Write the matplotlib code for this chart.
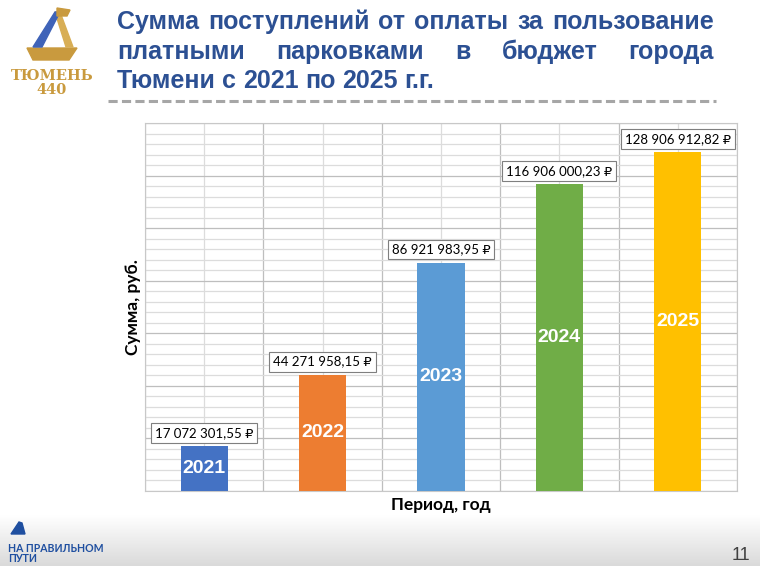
import matplotlib.pyplot as plt
import numpy as np
from matplotlib.patches import Polygon
from matplotlib.colors import LinearSegmentedColormap

# data
years = ['2021', '2022', '2023', '2024', '2025']
amounts = [17072301.55, 44271958.15, 86921983.95, 116906000.23, 128906912.82]
amount_labels = ['17 072 301,55 ₽', '44 271 958,15 ₽', '86 921 983,95 ₽',
                 '116 906 000,23 ₽', '128 906 912,82 ₽']
bar_colors = ['#4472C4', '#ED7D31', '#5B9BD5', '#70AD47', '#FFC000']

title_lines = ['Сумма поступлений от оплаты за пользование',
               'платными парковками в бюджет города',
               'Тюмени с 2021 по 2025 г.г.']

W, H = 760, 566
TITLE_BLUE = '#2C5093'
GOLD = '#C99A3E'


def fx(px):
    return px / W


def fy(py):
    return 1 - py / H


fig = plt.figure(figsize=(W / 100, H / 100), dpi=100)
fig.patch.set_facecolor('white')

# decoration layer in pixel coordinates
deco = fig.add_axes([0, 0, 1, 1])
deco.set_xlim(0, W)
deco.set_ylim(H, 0)
deco.axis('off')

# footer gradient
cmap = LinearSegmentedColormap.from_list('foot', ['#FFFFFF', '#DADADA'])
grad = np.linspace(0, 1, 100).reshape(-1, 1)
deco.imshow(grad, cmap=cmap, extent=(0, W, H, 515), aspect='auto', zorder=0)

# logo
deco.add_patch(Polygon([(27, 48), (77, 48), (69, 60), (33, 60)], color=GOLD))
deco.add_patch(Polygon([(55, 12), (60, 12), (73, 47), (66, 47)], color='#D8AE55'))
deco.add_patch(Polygon([(33, 47), (55, 12), (60, 12), (42, 47)], color='#3F63B8'))
deco.add_patch(Polygon([(57, 8), (70, 10), (67, 16), (57, 16)], color=GOLD))
deco.text(52, 76, 'ТЮМЕНЬ', color=GOLD, fontsize=10.5, fontweight='bold',
          family='DejaVu Serif', ha='center', va='center')
deco.text(52, 90, '440', color=GOLD, fontsize=10.5, fontweight='bold',
          family='DejaVu Serif', ha='center', va='center')

# footer logo and page number
deco.add_patch(Polygon([(11, 534), (19, 522), (22, 523), (25, 534)], color='#1F4FA0'))
deco.text(8, 548, 'НА ПРАВИЛЬНОМ', color='#1F4FA0', fontsize=7.6,
          fontweight='bold', family='Lato', va='center')
deco.text(8, 558, 'ПУТИ', color='#1F4FA0', fontsize=7.6,
          fontweight='bold', family='Lato', va='center')
deco.text(741, 555, '11', color='#404040', fontsize=13,
          family='Liberation Sans', ha='center', va='center')

# dashed separator
deco.plot([108, 716], [101, 101], color='#A6A6A6', lw=2.2,
          ls=(0, (3, 1.4)), solid_capstyle='butt')

# title, justified except the last line
title_y = [22, 52, 81]
left_x, right_x = 117, 714
renderer = fig.canvas.get_renderer()
for i, line in enumerate(title_lines):
    words = line.split()
    texts = [deco.text(0, title_y[i], w, color=TITLE_BLUE, fontsize=18,
                       fontweight='bold', family='Liberation Sans',
                       va='center', ha='left') for w in words]
    widths = [t.get_window_extent(renderer).width for t in texts]
    space = texts[0].get_window_extent(renderer).height * 0.27
    if i < len(title_lines) - 1:
        gap = (right_x - left_x - sum(widths)) / (len(words) - 1)
    else:
        gap = space
    x = left_x
    for t, w in zip(texts, widths):
        t.set_x(x)
        x += w + gap

# chart
ax = fig.add_axes([fx(145), fy(491), fx(737) - fx(145), fy(123) - fy(491)])
x = np.arange(len(years))
ax.bar(x, amounts, width=0.4, color=bar_colors, zorder=3)
ax.set_xlim(-0.5, len(years) - 0.5)
ax.set_ylim(0, 140e6)
ax.set_xticks(np.arange(-0.5, len(years), 1))
ax.set_xticks(x, minor=True)
ax.set_yticks(np.arange(0, 140e6 + 1, 20e6))
ax.set_yticks(np.arange(0, 140e6 + 1, 4e6), minor=True)
ax.grid(which='minor', color='#DCDCDC', lw=0.9, zorder=0)
ax.grid(which='major', color='#BEBEBE', lw=0.9, zorder=1)
ax.tick_params(which='both', length=0, labelbottom=False, labelleft=False)
for s in ax.spines.values():
    s.set_color('#C8C8C8')

for xi, val, lab, yr in zip(x, amounts, amount_labels, years):
    ax.annotate(lab, (xi, val), xytext=(0, 7), textcoords='offset pixels',
                ha='center', va='bottom', fontsize=9.5, color='black',
                family=['Lato', 'DejaVu Sans'], zorder=5,
                bbox=dict(boxstyle='square,pad=0.3', fc='white',
                          ec='#7F7F7F', lw=0.8))
    ax.text(xi, val / 2, yr, ha='center', va='center', color='white',
            fontsize=14, fontweight='bold', family='Liberation Sans', zorder=4)

ax.set_ylabel('Сумма, руб.', fontsize=12.5, fontweight='bold',
              family='Lato', labelpad=3)
ax.set_xlabel('Период, год', fontsize=12.5, fontweight='bold',
              family='Lato', labelpad=4)

fig.savefig('out.png', dpi=100)
